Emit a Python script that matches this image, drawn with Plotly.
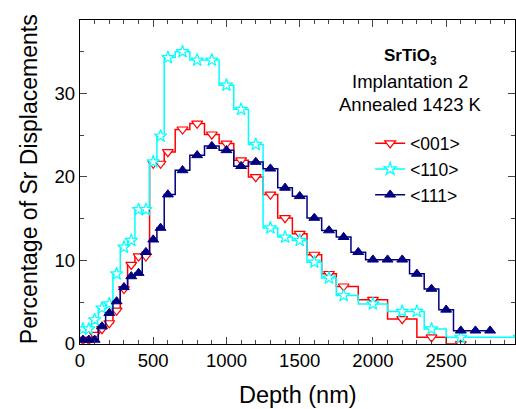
import plotly.graph_objects as go

# depth (nm) and percentage of Sr displacements for each channel direction
depth_001 = [20, 60, 100, 150, 200, 250, 300, 350, 400, 450, 500, 550, 600, 700, 800, 900,
             1000, 1100, 1200, 1300, 1400, 1500, 1600, 1700, 1800, 2000, 2200, 2400, 2600]
disp_001 = [0.5, 0.5, 1.1, 1.8, 2.5, 4.0, 6.6, 9.5, 10.5, 10.5, 21.6, 21.6, 23.0, 25.7, 26.4,
            25.1, 24.0, 22.0, 20.0, 17.9, 15.1, 13.2, 10.7, 8.4, 6.9, 5.3, 3.0, 0.8, 0.0]

depth_110 = [20, 60, 100, 150, 200, 250, 300, 350, 400, 450, 500, 550, 600, 700, 800, 900,
             1000, 1100, 1200, 1300, 1400, 1500, 1600, 1700, 1800, 2000, 2200, 2300, 2400,
             2600, 3000]
disp_110 = [1.8, 1.8, 2.9, 4.3, 4.8, 8.4, 11.6, 12.4, 16.1, 16.1, 21.8, 24.9, 34.3, 35.0, 34.0,
            34.0, 31.0, 28.1, 23.9, 13.9, 12.8, 12.4, 9.8, 7.9, 5.8, 4.8, 3.9, 3.9, 1.8, 0.8, 0.8]

depth_111 = [20, 60, 100, 150, 200, 250, 300, 350, 400, 450, 500, 550, 600, 700, 800, 900,
             1000, 1100, 1200, 1300, 1400, 1500, 1600, 1700, 1800, 1900, 2000, 2100, 2200,
             2300, 2400, 2500, 2600, 2700, 2800]
disp_111 = [0.5, 0.5, 0.5, 2.1, 3.7, 5.1, 6.8, 8.1, 8.5, 11.0, 12.5, 13.9, 17.9, 20.8, 22.6,
            23.7, 23.2, 21.3, 21.8, 21.0, 18.7, 17.7, 15.1, 13.6, 12.8, 11.0, 10.1, 10.1, 10.1,
            8.4, 6.6, 4.1, 1.6, 1.6, 1.6]

FONT = "Arial, Liberation Sans, sans-serif"

fig = go.Figure()

fig.add_trace(go.Scatter(
    x=depth_001, y=disp_001, name="<001>", mode="lines+markers", line_shape="hvh",
    line=dict(color="#FF0000", width=1.5),
    marker=dict(symbol="triangle-down", size=9.5, color="white",
                line=dict(color="#FF0000", width=1.2))))
fig.add_trace(go.Scatter(
    x=depth_110, y=disp_110, name="<110>", mode="lines+markers", line_shape="hvh",
    line=dict(color="#00FFFF", width=1.5),
    marker=dict(symbol="star", size=9.5, color="white",
                line=dict(color="#00FFFF", width=1.2))))
fig.add_trace(go.Scatter(
    x=depth_111, y=disp_111, name="<111>", mode="lines+markers", line_shape="hvh",
    line=dict(color="#000080", width=1.5),
    marker=dict(symbol="triangle-up", size=9.5, color="#000080",
                line=dict(color="#000080", width=1))))

fig.update_xaxes(range=[0, 2970], dtick=500, ticks="inside", ticklen=7, tickwidth=1.2,
                 minor=dict(dtick=100, ticks="inside", ticklen=3.5, tickwidth=1.2),
                 showline=True, linecolor="black", linewidth=1.3, mirror="ticks",
                 showgrid=False, zeroline=False, automargin=False,
                 tickfont=dict(family=FONT, size=18.5, color="black"))
fig.update_yaxes(range=[0, 38.8], dtick=10, ticks="inside", ticklen=7, tickwidth=1.2,
                 minor=dict(dtick=5, ticks="inside", ticklen=3.5, tickwidth=1.2),
                 showline=True, linecolor="black", linewidth=1.3, mirror="ticks",
                 showgrid=False, zeroline=False, automargin=False,
                 tickfont=dict(family=FONT, size=18.5, color="black"))

# axis titles
fig.add_annotation(x=0.501, y=-0.157, xref="paper", yref="paper", showarrow=False,
                   xanchor="center", yanchor="middle",
                   text="Depth (nm)", font=dict(family=FONT, size=23.5, color="black"))
fig.add_annotation(x=-0.117, y=0.509, xref="paper", yref="paper", showarrow=False,
                   xanchor="center", yanchor="middle",
                   textangle=-90, text="Percentage of Sr Displacements",
                   font=dict(family=FONT, size=23, color="black"))

# sample label
fig.add_annotation(x=0.759, y=0.886, xref="paper", yref="paper", showarrow=False,
                   xanchor="center", yanchor="middle",
                   text="<b>SrTiO<sub>3</sub></b>",
                   font=dict(family=FONT, size=17, color="black"))
fig.add_annotation(x=0.759, y=0.81, xref="paper", yref="paper", showarrow=False,
                   xanchor="center", yanchor="middle",
                   text="Implantation 2", font=dict(family=FONT, size=18.5, color="black"))
fig.add_annotation(x=0.759, y=0.738, xref="paper", yref="paper", showarrow=False,
                   xanchor="center", yanchor="middle",
                   text="Annealed 1423 K", font=dict(family=FONT, size=18.5, color="black"))

fig.update_layout(
    width=516, height=409,
    margin=dict(l=80, r=1, t=20, b=65),
    plot_bgcolor="white", paper_bgcolor="white",
    font=dict(family=FONT, color="black"),
    legend=dict(x=0.667, y=0.675, xanchor="left", yanchor="top",
                bgcolor="rgba(0,0,0,0)", font=dict(family=FONT, size=17.5, color="black"),
                tracegroupgap=0),
)

fig.write_html("out.html", config={"displayModeBar": False},
               post_script="document.body.style.margin='0';"
                           "document.body.style.overflow='hidden';")
